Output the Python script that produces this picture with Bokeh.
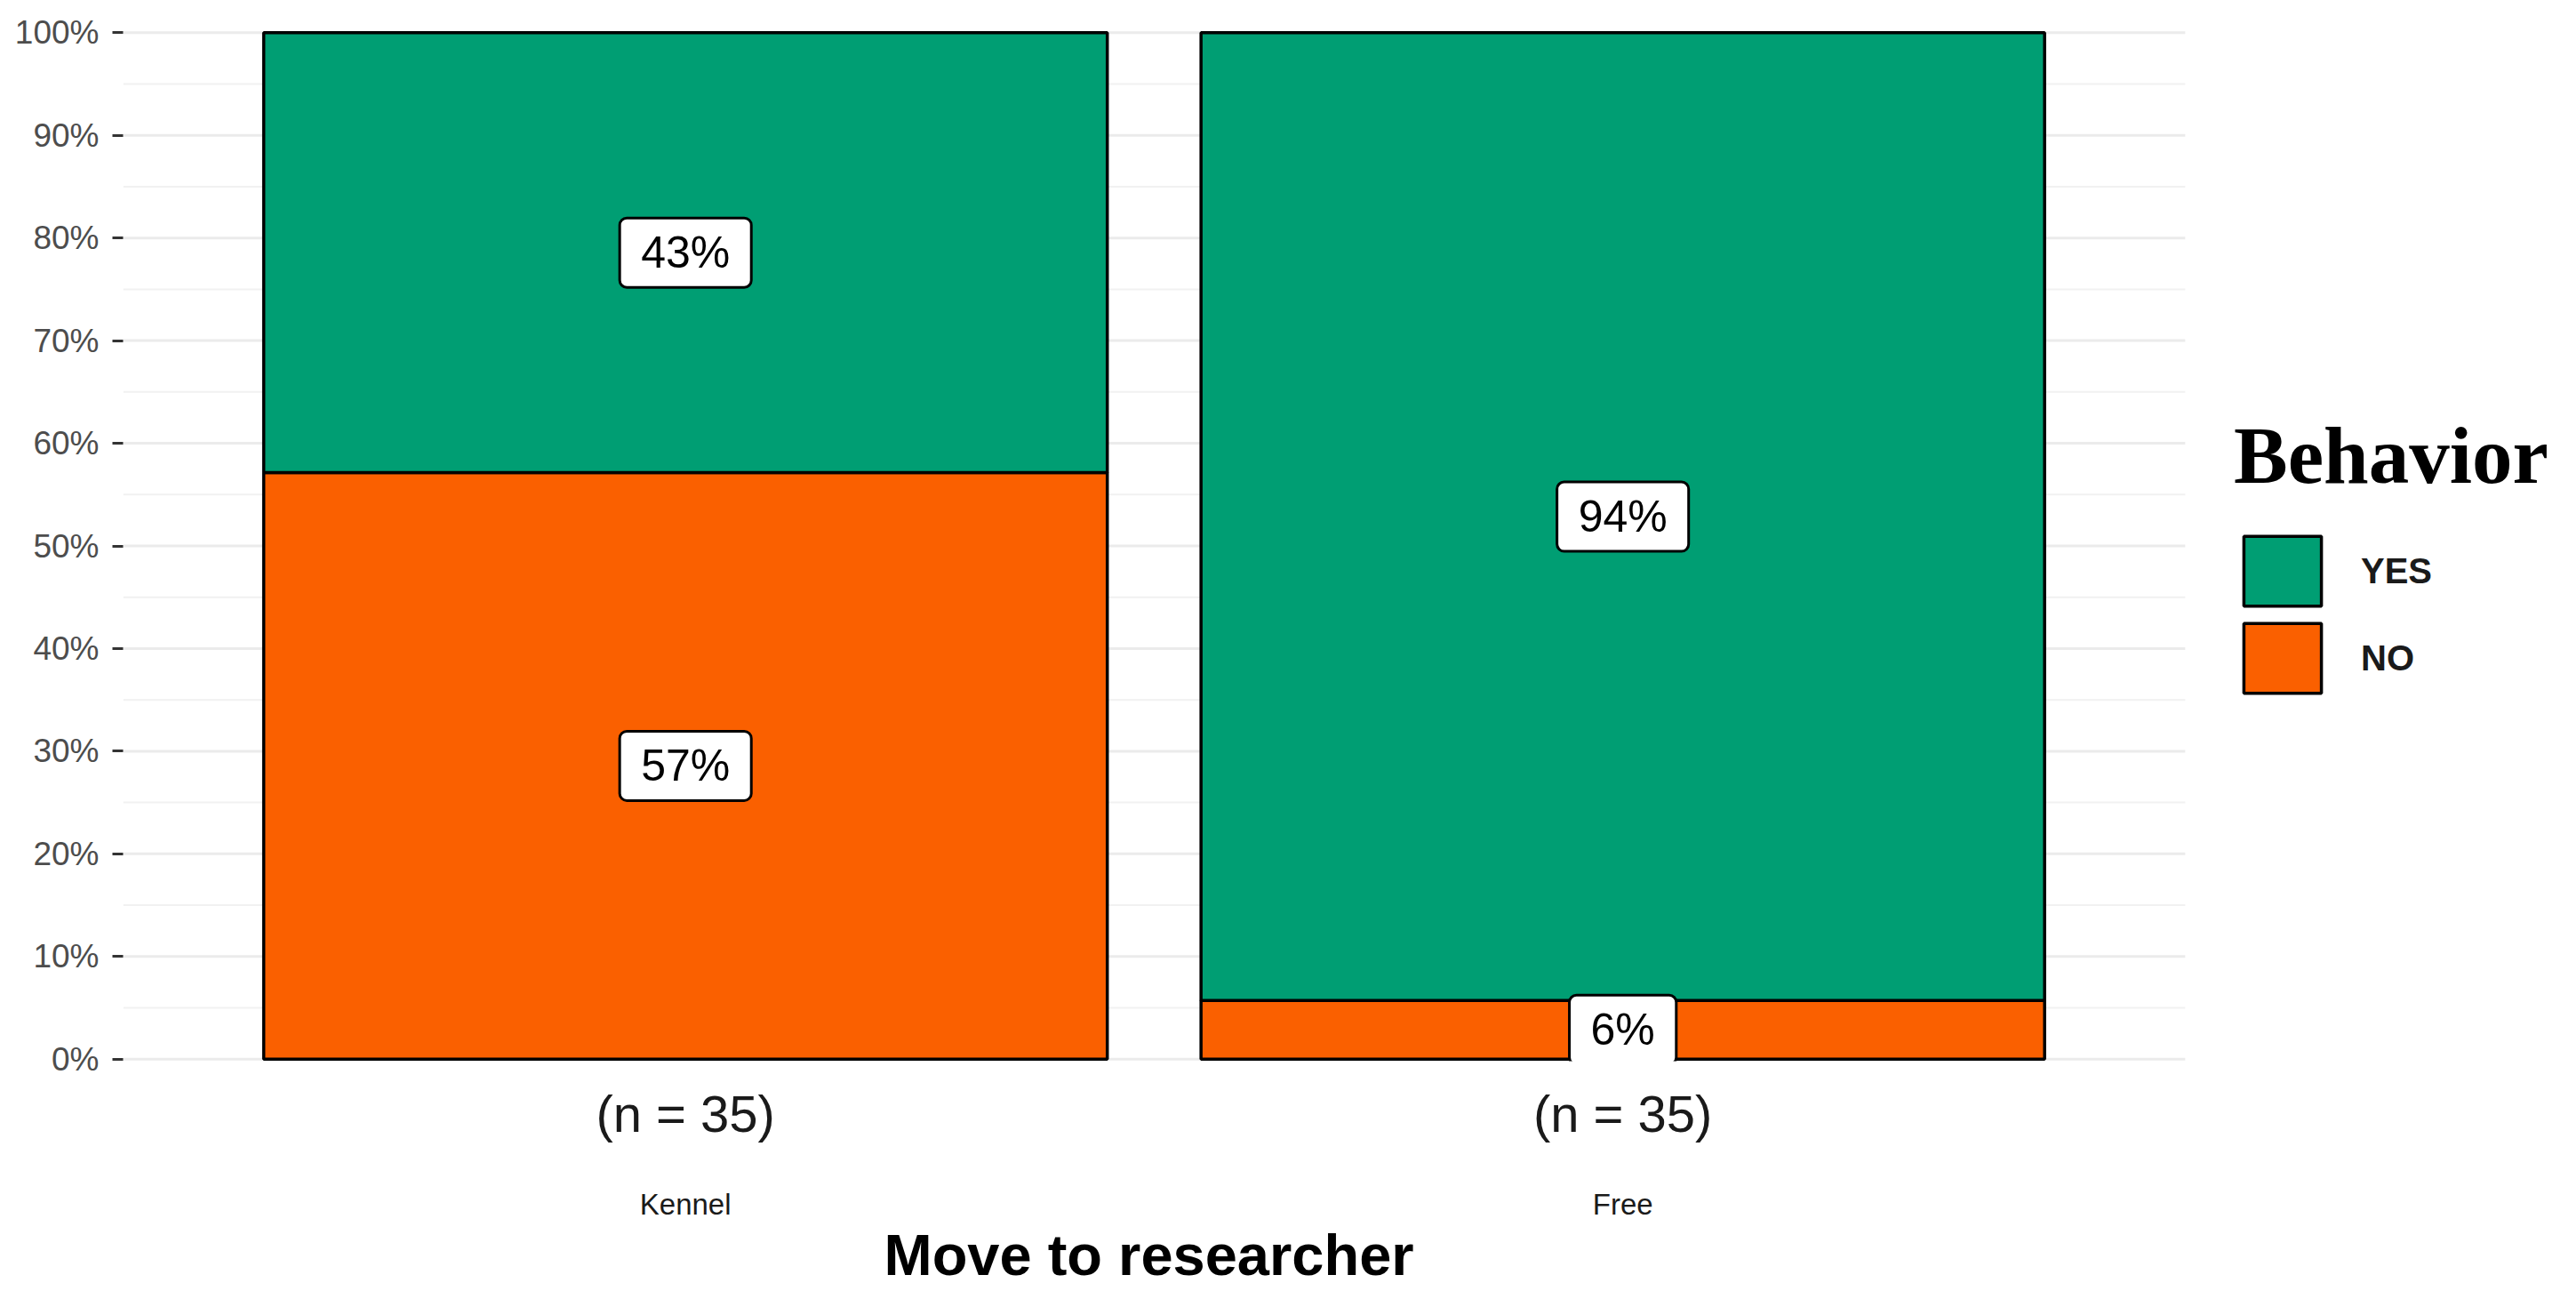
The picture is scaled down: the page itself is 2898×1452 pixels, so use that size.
from bokeh.plotting import figure
from bokeh.models import (ColumnDataSource, Range1d, FixedTicker, Legend, LegendItem,
                          LinearAxis, Title)
from bokeh.core.properties import value
from bokeh.embed import file_html
from bokeh.resources import INLINE

# ---- data ----
categories = ["Kennel", "Free"]
n_labels = ["(n = 35)", "(n = 35)"]
yes_share = [0.4286, 0.9429]
no_share = [0.5714, 0.0571]
series_names = ["YES", "NO"]
y_ticks = [0.0, 0.1, 0.2, 0.3, 0.4, 0.5, 0.6, 0.7, 0.8, 0.9, 1.0]
y_minor = [0.05, 0.15, 0.25, 0.35, 0.45, 0.55, 0.65, 0.75, 0.85, 0.95]
y_tick_labels = ["0%", "10%", "20%", "30%", "40%", "50%", "60%", "70%", "80%", "90%", "100%"]
x_title = "Move to researcher"
legend_title = "Behavior"

GREEN = "#009E73"
ORANGE = "#FA6000"
SANS = "Liberation Sans"

xs = [i + 1 for i in range(len(categories))]
src = ColumnDataSource(dict(x=xs, no=no_share, yes=yes_share))

# panel spans categories +/- 0.6; the canvas to the right holds the legend
x_lo, x_hi = 0.4, len(categories) + 0.6
p = figure(width=2898, height=1452, output_backend="svg", toolbar_location=None,
           x_range=Range1d(x_lo, 3.0174), y_range=Range1d(-0.002, 1.002),
           min_border_left=138, min_border_right=0, min_border_top=34,
           min_border_bottom=259)
p.outline_line_color = None
p.background_fill_color = "white"
p.border_fill_color = "white"
p.xgrid.grid_line_color = None
p.ygrid.grid_line_color = None

# horizontal grid lines limited to the panel
p.segment(x0=[x_lo] * len(y_minor), x1=[x_hi] * len(y_minor), y0=y_minor, y1=y_minor,
          line_color="#F1F1F1", line_width=2)
p.segment(x0=[x_lo] * len(y_ticks), x1=[x_hi] * len(y_ticks), y0=y_ticks, y1=y_ticks,
          line_color="#EBEBEB", line_width=3)

# y axis
p.yaxis.ticker = FixedTicker(ticks=y_ticks)
p.yaxis.major_label_overrides = {t: l for t, l in zip(y_ticks, y_tick_labels)}
p.yaxis.major_label_text_font = SANS
p.yaxis.major_label_text_font_size = "37px"
p.yaxis.major_label_text_color = "#4D4D4D"
p.yaxis.axis_line_color = None
p.yaxis.major_tick_in = 0
p.yaxis.major_tick_out = 12
p.yaxis.major_tick_line_color = "#333333"
p.yaxis.major_tick_line_width = 3
p.yaxis.minor_tick_line_color = None
p.yaxis.major_label_standoff = 15

# x axis A: sample sizes
xa = p.xaxis[0]
xa.ticker = FixedTicker(ticks=xs)
xa.major_label_overrides = {x: t for x, t in zip(xs, n_labels)}
xa.major_label_text_font = SANS
xa.major_label_text_font_size = "58px"
xa.major_label_text_color = "#1A1A1A"
xa.major_label_standoff = 26
xa.axis_line_color = None
xa.major_tick_in = 0
xa.major_tick_out = 0
xa.major_tick_line_color = None
xa.minor_tick_line_color = None

# x axis B: categories
xb = LinearAxis(ticker=FixedTicker(ticks=xs),
                major_label_overrides={x: c for x, c in zip(xs, categories)},
                major_label_text_font=SANS, major_label_text_font_size="33px",
                major_label_text_color="#1A1A1A", major_label_standoff=48,
                axis_line_color=None, major_tick_in=0, major_tick_out=0,
                major_tick_line_color=None, minor_tick_line_color=None)
p.add_layout(xb, "below")

# x title, centred under the bar panel
p.add_layout(Title(text=x_title, align="left", offset=856, standoff=-5,
                   text_font=SANS, text_font_size="65px", text_font_style="bold",
                   text_color="#000000"), "below")

# bars
rs = p.vbar_stack(["no", "yes"], x="x", width=0.9, source=src,
                  fill_color=[ORANGE, GREEN], line_color="black", line_width=3.5)
r_no, r_yes = rs

# in-bar labels
lab_x, lab_y, lab_t = [], [], []
for i in range(len(categories)):
    lab_x += [xs[i], xs[i]]
    lab_y += [no_share[i] / 2, no_share[i] + yes_share[i] / 2]
    lab_t += ["%d%%" % round(no_share[i] * 100), "%d%%" % round(yes_share[i] * 100)]
lsrc = ColumnDataSource(dict(x=lab_x, y=lab_y, t=lab_t))
p.text(x="x", y="y", text="t", source=lsrc, text_font=value(SANS),
       text_font_size="50px", text_color="black", text_align="center",
       text_baseline="middle", background_fill_color="white",
       border_line_color="black", border_line_width=3, border_radius=8,
       padding=(24, 11))

# legend
legend = Legend(items=[LegendItem(label=series_names[0], renderers=[r_yes]),
                       LegendItem(label=series_names[1], renderers=[r_no])],
                location=(2375, 404), title=legend_title,
                title_text_font="Liberation Serif", title_text_font_size="91px",
                title_text_font_style="bold", title_text_color="black",
                title_standoff=28,
                label_text_font=SANS, label_text_font_size="40px",
                label_text_font_style="bold", label_text_color="#1A1A1A",
                glyph_width=109, glyph_height=98, label_height=98, spacing=0,
                label_standoff=34, padding=0, margin=0,
                border_line_color=None, background_fill_alpha=0)
p.add_layout(legend, "center")

open("out.html", "w").write(file_html(p, INLINE))
